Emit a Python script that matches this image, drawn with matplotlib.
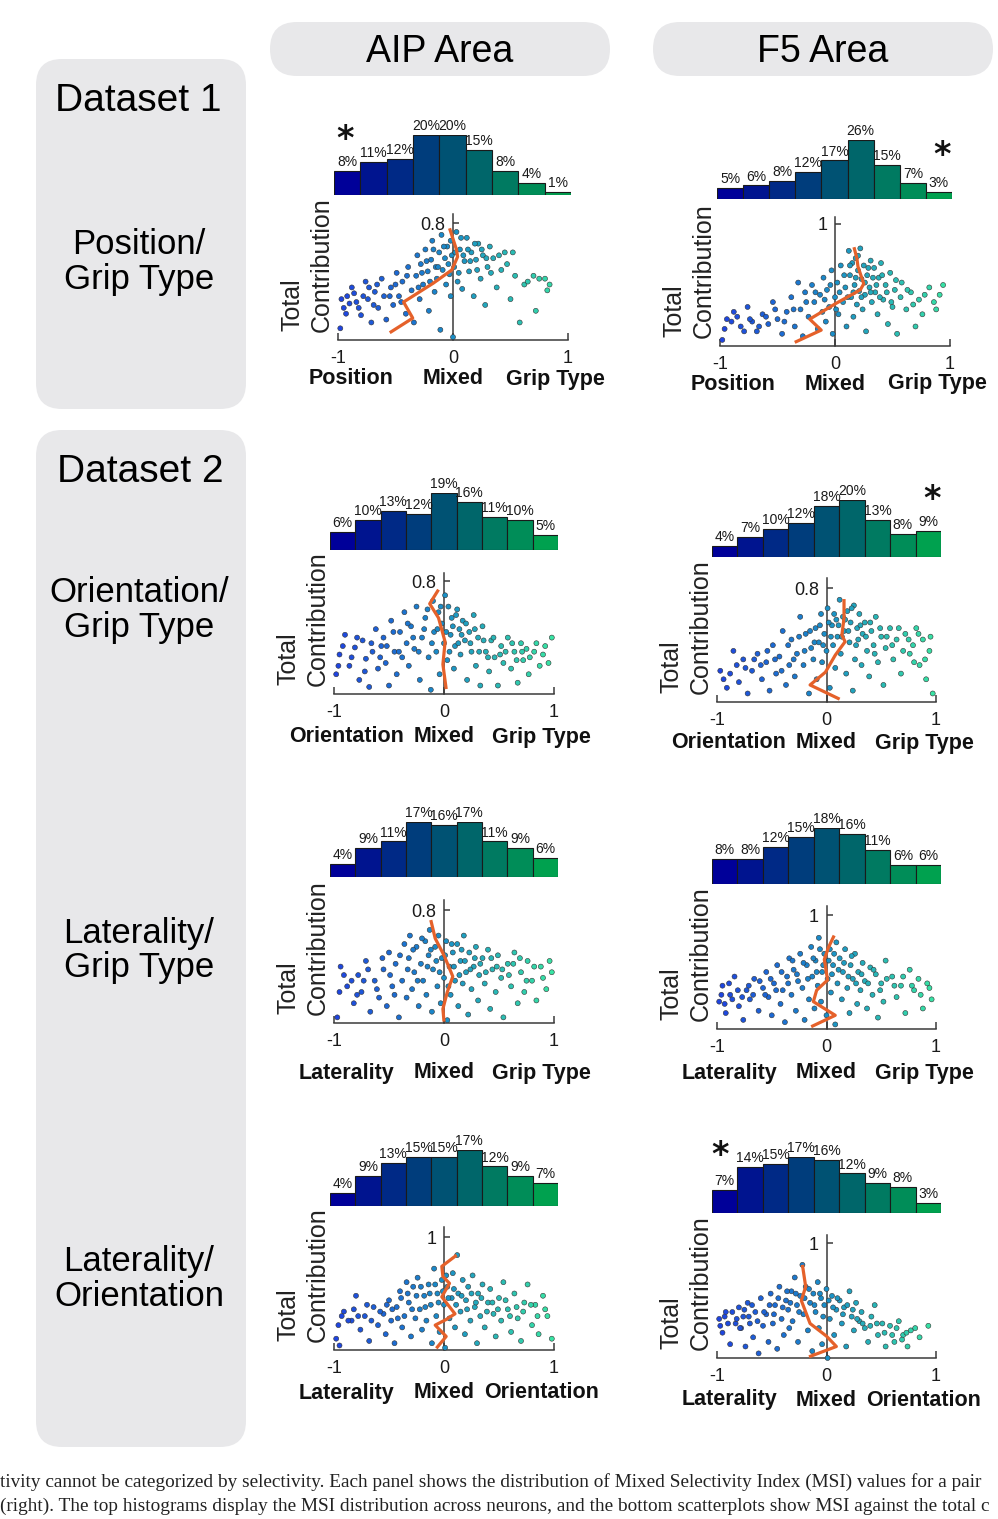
import numpy as np
import matplotlib
matplotlib.use("Agg")
import matplotlib.pyplot as plt
from matplotlib import font_manager
from matplotlib.patches import FancyBboxPatch
from matplotlib.colors import LinearSegmentedColormap

# histogram percentages (9 MSI bins from -1 to 1)
aip_pos_grip_hist = [8, 11, 12, 20, 20, 15, 8, 4, 1]
f5_pos_grip_hist = [5, 6, 8, 12, 17, 26, 15, 7, 3]
aip_ori_grip_hist = [6, 10, 13, 12, 19, 16, 11, 10, 5]
f5_ori_grip_hist = [4, 7, 10, 12, 18, 20, 13, 8, 9]
aip_lat_grip_hist = [4, 9, 11, 17, 16, 17, 11, 9, 6]
f5_lat_grip_hist = [8, 8, 12, 15, 18, 16, 11, 6, 6]
aip_lat_ori_hist = [4, 9, 13, 15, 15, 17, 12, 9, 7]
f5_lat_ori_hist = [7, 14, 15, 17, 16, 12, 9, 8, 3]

# scatter points (MSI, total contribution)
aip_pos_grip_pts = [
    (-0.98,0.08),(-0.95,0.22),(-0.92,0.30),(-0.88,0.36),(-0.84,0.26),(-0.80,0.17),
    (-0.76,0.40),(-0.74,0.28),(-0.71,0.12),(-0.68,0.33),(-0.65,0.22),(-0.62,0.42),(-0.60,0.30),(-0.58,0.14),
    (-0.54,0.36),(-0.52,0.24),(-0.49,0.46),(-0.47,0.30),(-0.44,0.40),(-0.41,0.18),(-0.39,0.50),(-0.36,0.34),(-0.34,0.12),
    (-0.32,0.44),(-0.31,0.58),(-0.29,0.28),(-0.28,0.52),(-0.26,0.38),(-0.24,0.62),(-0.22,0.47),(-0.21,0.20),
    (-0.19,0.55),(-0.18,0.68),(-0.16,0.33),(-0.15,0.50),(-0.14,0.42),(-0.12,0.60),(-0.11,0.07),
    (-0.10,0.72),(-0.09,0.48),(-0.07,0.56),(-0.06,0.38),(-0.05,0.64),(-0.03,0.45),(-0.02,0.30),(-0.01,0.58),
    (0.00,0.02),(0.01,0.50),(0.03,0.74),(0.04,0.40),(0.06,0.62),(0.08,0.35),(0.10,0.54),
    (0.12,0.70),(0.14,0.47),(0.16,0.60),(0.18,0.30),(0.20,0.55),(0.22,0.66),(0.24,0.42),(0.26,0.58),(0.28,0.24),(0.30,0.50),(0.32,0.64),
    (0.35,0.56),(0.38,0.36),(0.42,0.48),(0.45,0.60),(0.50,0.28),(0.54,0.44),
    (0.58,0.12),(0.62,0.38),(0.70,0.44),(0.72,0.20),(0.80,0.42),(0.82,0.34),
    (-0.97,0.28),(-0.93,0.18),(-0.90,0.25),(-0.86,0.32),(-0.82,0.22),(-0.78,0.30),(-0.73,0.36),(-0.69,0.24),
    (-0.66,0.38),(-0.55,0.30),(-0.50,0.38),(-0.45,0.26),(-0.40,0.44),(-0.30,0.36),(-0.27,0.46),(-0.23,0.54),
    (-0.20,0.40),(-0.17,0.62),(-0.13,0.50),(-0.08,0.64),(-0.04,0.52),(-0.02,0.68),(0.02,0.60),(0.05,0.46),
    (0.07,0.70),(0.09,0.58),(0.13,0.62),(0.15,0.54),(0.19,0.66),(0.21,0.48),(0.25,0.62),(0.29,0.56),
    (0.33,0.46),(0.40,0.58),(0.47,0.52),(0.52,0.60),(0.65,0.40),(0.75,0.42),(0.84,0.38)]
f5_pos_grip_pts = [
    (-0.98,0.05),(-0.94,0.22),(-0.88,0.28),(-0.82,0.16),
    (-0.76,0.32),(-0.72,0.20),(-0.68,0.12),(-0.63,0.26),(-0.58,0.18),
    (-0.54,0.36),(-0.50,0.22),(-0.46,0.10),(-0.42,0.28),(-0.38,0.40),(-0.35,0.16),
    (-0.32,0.52),(-0.30,0.30),(-0.28,0.08),(-0.26,0.44),(-0.23,0.24),(-0.20,0.50),(-0.18,0.36),(-0.15,0.14),(-0.13,0.42),(-0.11,0.28),
    (-0.10,0.56),(-0.08,0.20),(-0.07,0.46),(-0.05,0.32),(-0.03,0.62),(-0.02,0.10),(0.00,0.40),(0.02,0.52),(0.03,0.26),
    (0.05,0.66),(0.07,0.36),(0.09,0.48),(0.10,0.16),
    (0.12,0.78),(0.13,0.58),(0.14,0.40),(0.15,0.68),(0.16,0.24),(0.17,0.50),(0.18,0.72),(0.19,0.34),(0.20,0.62),(0.21,0.45),
    (0.22,0.80),(0.23,0.55),(0.24,0.30),(0.25,0.66),(0.26,0.42),(0.27,0.12),(0.28,0.58),(0.30,0.48),(0.31,0.70),(0.32,0.36),
    (0.34,0.64),(0.35,0.44),(0.37,0.26),(0.38,0.56),(0.40,0.68),(0.42,0.38),(0.44,0.50),(0.46,0.18),(0.48,0.60),(0.50,0.32),(0.52,0.46),(0.54,0.10),
    (0.58,0.52),(0.62,0.30),(0.66,0.44),(0.70,0.16),(0.73,0.38),(0.76,0.26),
    (0.82,0.48),(0.88,0.30),(0.94,0.50),
    (-0.96,0.14),(-0.90,0.20),(-0.85,0.24),(-0.79,0.12),(-0.74,0.22),(-0.66,0.16),(-0.60,0.24),(-0.52,0.30),
    (-0.44,0.20),(-0.36,0.30),(-0.25,0.36),(-0.17,0.44),(-0.09,0.38),(-0.04,0.50),(0.01,0.30),(0.04,0.44),
    (0.08,0.58),(0.11,0.40),(0.13,0.66),(0.16,0.44),(0.18,0.56),(0.20,0.74),(0.23,0.40),(0.26,0.52),
    (0.29,0.64),(0.31,0.44),(0.33,0.56),(0.36,0.50),(0.39,0.40),(0.41,0.58),(0.45,0.44),(0.49,0.36),
    (0.53,0.54),(0.57,0.40),(0.63,0.46),(0.68,0.34),(0.78,0.42),(0.86,0.36),(0.91,0.42)]
aip_ori_grip_pts = [
    (-0.98,0.14),(-0.95,0.28),(-0.90,0.42),(-0.86,0.20),(-0.81,0.33),
    (-0.77,0.10),(-0.74,0.38),(-0.71,0.25),(-0.68,0.05),(-0.65,0.30),(-0.62,0.46),(-0.60,0.18),(-0.57,0.34),
    (-0.55,0.40),(-0.53,0.22),(-0.50,0.06),(-0.48,0.52),(-0.45,0.30),(-0.43,0.14),(-0.40,0.44),(-0.38,0.26),(-0.36,0.58),(-0.34,0.36),
    (-0.32,0.20),(-0.30,0.48),(-0.27,0.32),(-0.25,0.62),(-0.22,0.10),(-0.20,0.40),(-0.17,0.54),(-0.14,0.26),(-0.12,0.03),
    (-0.10,0.66),(-0.09,0.44),(-0.07,0.30),(-0.05,0.58),(-0.04,0.14),(-0.02,0.50),(0.00,0.36),(0.01,0.70),(0.03,0.24),
    (0.04,0.62),(0.06,0.42),(0.07,0.54),(0.09,0.18),(0.10,0.34),
    (0.12,0.60),(0.14,0.46),(0.15,0.28),(0.17,0.52),(0.19,0.38),(0.21,0.10),(0.23,0.44),(0.25,0.30),(0.27,0.56),(0.29,0.20),(0.31,0.40),(0.33,0.06),
    (0.35,0.48),(0.38,0.30),(0.41,0.16),(0.43,0.38),(0.46,0.26),(0.49,0.06),(0.52,0.34),(0.54,0.22),
    (0.58,0.40),(0.61,0.18),(0.64,0.30),(0.67,0.08),(0.70,0.36),(0.72,0.24),(0.75,0.32),(0.77,0.14),
    (0.82,0.30),(0.87,0.20),(0.92,0.34),(0.98,0.40),
    (-0.96,0.20),(-0.92,0.34),(-0.84,0.26),(-0.79,0.40),(-0.72,0.16),(-0.66,0.36),(-0.58,0.26),(-0.52,0.34),
    (-0.46,0.44),(-0.41,0.30),(-0.33,0.50),(-0.28,0.40),(-0.23,0.30),(-0.18,0.46),(-0.15,0.60),(-0.11,0.36),
    (-0.06,0.46),(-0.03,0.62),(0.02,0.44),(0.05,0.30),(0.08,0.48),(0.11,0.56),(0.13,0.36),(0.16,0.42),
    (0.20,0.50),(0.24,0.36),(0.28,0.46),(0.32,0.30),(0.36,0.38),(0.40,0.26),(0.45,0.40),(0.51,0.28),
    (0.56,0.30),(0.62,0.36),(0.66,0.24),(0.71,0.30),(0.78,0.26),(0.84,0.36),(0.90,0.28),(0.95,0.22)]
f5_ori_grip_pts = [
    (-0.97,0.22),(-0.91,0.10),(-0.85,0.36),
    (-0.80,0.14),(-0.76,0.30),(-0.72,0.06),(-0.68,0.22),(-0.63,0.34),(-0.59,0.16),
    (-0.55,0.28),(-0.52,0.08),(-0.49,0.40),(-0.46,0.20),(-0.43,0.32),(-0.40,0.50),(-0.37,0.12),(-0.34,0.26),
    (-0.32,0.44),(-0.29,0.18),(-0.27,0.34),(-0.24,0.60),(-0.21,0.26),(-0.19,0.48),(-0.16,0.06),(-0.14,0.38),(-0.12,0.30),
    (-0.10,0.52),(-0.09,0.16),(-0.07,0.42),(-0.05,0.62),(-0.04,0.28),(-0.02,0.48),(0.00,0.36),(0.01,0.66),(0.03,0.10),
    (0.05,0.54),(0.06,0.40),(0.08,0.24),(0.09,0.58),(0.10,0.46),
    (0.12,0.72),(0.13,0.34),(0.15,0.60),(0.16,0.50),(0.18,0.20),(0.19,0.64),(0.21,0.42),(0.22,0.56),(0.24,0.08),
    (0.25,0.68),(0.26,0.30),(0.28,0.52),(0.29,0.44),(0.30,0.62),(0.32,0.26),(0.33,0.48),
    (0.35,0.56),(0.37,0.36),(0.39,0.18),(0.41,0.50),(0.43,0.40),(0.45,0.60),(0.47,0.28),(0.50,0.46),(0.52,0.12),(0.54,0.38),
    (0.58,0.52),(0.61,0.30),(0.64,0.44),(0.68,0.20),(0.72,0.48),(0.76,0.34),
    (0.79,0.40),(0.82,0.52),(0.85,0.26),(0.88,0.44),(0.91,0.16),(0.94,0.36),(0.97,0.06),
    (-0.94,0.16),(-0.88,0.20),(-0.82,0.26),(-0.74,0.24),(-0.66,0.30),(-0.60,0.26),(-0.54,0.36),(-0.47,0.30),
    (-0.41,0.22),(-0.35,0.40),(-0.30,0.30),(-0.25,0.46),(-0.20,0.36),(-0.15,0.50),(-0.11,0.42),(-0.06,0.54),
    (-0.03,0.40),(0.02,0.56),(0.04,0.46),(0.07,0.62),(0.11,0.54),(0.14,0.46),(0.17,0.58),(0.20,0.50),
    (0.23,0.66),(0.27,0.40),(0.31,0.54),(0.36,0.46),(0.40,0.56),(0.44,0.34),(0.49,0.52),(0.55,0.46),
    (0.60,0.40),(0.66,0.52),(0.70,0.36),(0.75,0.44),(0.80,0.28),(0.84,0.48),(0.90,0.30),(0.95,0.46)]
aip_lat_grip_pts = [
    (-0.97,0.04),(-0.94,0.40),(-0.88,0.26),
    (-0.82,0.14),(-0.78,0.34),(-0.75,0.22),(-0.71,0.44),(-0.67,0.08),(-0.63,0.30),(-0.59,0.18),
    (-0.55,0.38),(-0.52,0.12),(-0.50,0.50),(-0.47,0.26),(-0.44,0.42),(-0.41,0.04),(-0.38,0.30),(-0.36,0.56),(-0.34,0.18),
    (-0.32,0.46),(-0.31,0.62),(-0.29,0.24),(-0.27,0.36),(-0.25,0.54),(-0.23,0.12),(-0.21,0.42),(-0.19,0.30),
    (-0.17,0.58),(-0.16,0.20),(-0.14,0.48),(-0.13,0.66),(-0.11,0.08),
    (-0.10,0.38),(-0.08,0.54),(-0.06,0.26),(-0.05,0.62),(-0.03,0.14),(-0.02,0.46),(0.00,0.32),(0.02,0.58),(0.03,0.02),
    (0.05,0.40),(0.06,0.20),(0.08,0.50),(0.10,0.30),
    (0.12,0.56),(0.13,0.12),(0.15,0.44),(0.17,0.28),(0.18,0.62),(0.20,0.36),(0.22,0.06),(0.23,0.50),(0.25,0.24),
    (0.27,0.40),(0.29,0.54),(0.31,0.16),(0.32,0.34),
    (0.35,0.46),(0.37,0.28),(0.40,0.52),(0.42,0.10),(0.44,0.38),(0.47,0.22),(0.49,0.48),(0.52,0.32),(0.54,0.04),
    (0.58,0.42),(0.61,0.26),(0.64,0.50),(0.67,0.14),(0.70,0.36),(0.73,0.22),(0.76,0.44),
    (0.80,0.30),(0.84,0.16),(0.88,0.40),(0.93,0.24),(0.98,0.36),
    (-0.95,0.22),(-0.91,0.34),(-0.84,0.30),(-0.79,0.20),(-0.73,0.30),(-0.69,0.38),(-0.61,0.24),(-0.56,0.46),
    (-0.49,0.34),(-0.45,0.20),(-0.40,0.48),(-0.33,0.38),(-0.28,0.52),(-0.24,0.30),(-0.20,0.60),(-0.15,0.40),
    (-0.12,0.52),(-0.07,0.44),(-0.04,0.36),(0.01,0.48),(0.04,0.26),(0.07,0.56),(0.09,0.40),(0.14,0.34),
    (0.16,0.52),(0.19,0.44),(0.24,0.38),(0.28,0.46),(0.33,0.42),(0.38,0.36),(0.43,0.46),(0.48,0.40),
    (0.53,0.38),(0.59,0.34),(0.63,0.42),(0.69,0.46),(0.75,0.30),(0.82,0.40),(0.90,0.32),(0.96,0.44)]
f5_lat_grip_pts = [
    (-0.98,0.24),(-0.95,0.38),(-0.92,0.14),(-0.88,0.30),(-0.84,0.46),(-0.80,0.20),
    (-0.76,0.08),(-0.73,0.34),(-0.70,0.26),(-0.66,0.44),(-0.62,0.16),(-0.58,0.36),
    (-0.55,0.50),(-0.53,0.28),(-0.50,0.12),(-0.48,0.40),(-0.45,0.56),(-0.42,0.22),(-0.40,0.34),(-0.38,0.06),(-0.36,0.46),(-0.34,0.62),
    (-0.32,0.30),(-0.30,0.52),(-0.28,0.16),(-0.26,0.42),(-0.24,0.66),(-0.22,0.36),(-0.20,0.08),(-0.18,0.56),
    (-0.16,0.26),(-0.14,0.72),(-0.13,0.46),(-0.11,0.18),
    (-0.10,0.60),(-0.08,0.38),(-0.07,0.80),(-0.05,0.24),(-0.04,0.50),(-0.02,0.66),(0.00,0.12),(0.01,0.44),(0.03,0.70),
    (0.04,0.32),(0.06,0.56),(0.08,0.04),(0.09,0.76),(0.10,0.40),
    (0.12,0.62),(0.14,0.26),(0.15,0.50),(0.17,0.70),(0.19,0.36),(0.21,0.14),(0.22,0.56),(0.24,0.44),(0.26,0.66),
    (0.28,0.22),(0.29,0.50),(0.31,0.34),(0.33,0.58),
    (0.35,0.42),(0.37,0.18),(0.40,0.54),(0.42,0.30),(0.45,0.48),(0.47,0.10),(0.50,0.40),(0.52,0.24),(0.54,0.60),
    (0.60,0.46),(0.64,0.28),(0.68,0.38),(0.72,0.14),(0.76,0.52),
    (0.80,0.34),(0.84,0.44),(0.88,0.18),(0.92,0.40),(0.96,0.26),
    (-0.96,0.30),(-0.93,0.22),(-0.89,0.40),(-0.86,0.26),(-0.81,0.34),(-0.77,0.28),(-0.71,0.38),(-0.67,0.30),
    (-0.61,0.42),(-0.56,0.30),(-0.51,0.44),(-0.46,0.34),(-0.41,0.50),(-0.35,0.40),(-0.31,0.60),(-0.27,0.48),
    (-0.21,0.58),(-0.17,0.44),(-0.12,0.62),(-0.09,0.50),(-0.06,0.70),(-0.03,0.56),(0.02,0.60),(0.05,0.48),
    (0.07,0.66),(0.11,0.52),(0.16,0.58),(0.20,0.46),(0.23,0.64),(0.27,0.40),(0.32,0.48),(0.38,0.40),
    (0.43,0.52),(0.49,0.34),(0.55,0.44),(0.62,0.38),(0.70,0.46),(0.78,0.38),(0.86,0.30),(0.94,0.36)]
aip_lat_ori_pts = [
    (-0.98,0.10),(-0.95,0.04),(-0.91,0.34),
    (-0.84,0.26),(-0.80,0.48),(-0.76,0.18),(-0.72,0.30),(-0.68,0.08),(-0.64,0.38),(-0.60,0.22),
    (-0.55,0.32),(-0.53,0.14),(-0.50,0.44),(-0.48,0.26),(-0.45,0.06),(-0.43,0.38),(-0.40,0.52),(-0.38,0.20),(-0.36,0.30),(-0.34,0.60),
    (-0.32,0.42),(-0.30,0.12),(-0.28,0.56),(-0.26,0.28),(-0.24,0.64),(-0.22,0.36),(-0.20,0.18),(-0.18,0.48),
    (-0.16,0.26),(-0.14,0.58),(-0.12,0.40),(-0.11,0.06),
    (-0.09,0.72),(-0.07,0.30),(-0.06,0.50),(-0.04,0.16),(-0.02,0.62),(0.00,0.40),(0.01,0.02),(0.03,0.56),(0.05,0.28),
    (0.07,0.46),(0.08,0.68),(0.10,0.20),
    (0.12,0.84),(0.13,0.50),(0.15,0.34),(0.17,0.62),(0.19,0.14),(0.20,0.44),(0.22,0.56),(0.24,0.26),(0.26,0.66),
    (0.28,0.38),(0.30,0.06),(0.31,0.50),(0.33,0.30),
    (0.35,0.58),(0.37,0.20),(0.40,0.42),(0.42,0.54),(0.45,0.32),(0.47,0.12),(0.50,0.46),(0.52,0.26),(0.54,0.60),
    (0.58,0.36),(0.61,0.16),(0.64,0.50),(0.67,0.28),(0.70,0.08),(0.73,0.42),(0.76,0.58),
    (0.80,0.22),(0.83,0.40),(0.86,0.14),(0.90,0.48),(0.94,0.30),(0.98,0.10),
    (-0.96,0.22),(-0.93,0.30),(-0.87,0.26),(-0.82,0.36),(-0.78,0.30),(-0.70,0.40),(-0.66,0.26),(-0.58,0.34),
    (-0.52,0.40),(-0.47,0.36),(-0.42,0.28),(-0.39,0.46),(-0.33,0.50),(-0.29,0.36),(-0.25,0.48),(-0.21,0.56),
    (-0.17,0.38),(-0.13,0.50),(-0.08,0.58),(-0.05,0.42),(-0.01,0.52),(0.02,0.66),(0.04,0.46),(0.09,0.54),
    (0.11,0.40),(0.16,0.48),(0.21,0.36),(0.25,0.50),(0.29,0.42),(0.34,0.46),(0.39,0.34),(0.44,0.42),
    (0.49,0.36),(0.56,0.44),(0.60,0.30),(0.66,0.38),(0.72,0.34),(0.79,0.40),(0.85,0.30),(0.92,0.36)]
f5_lat_ori_pts = [
    (-0.98,0.34),(-0.95,0.22),(-0.92,0.40),(-0.88,0.12),(-0.83,0.30),
    (-0.80,0.44),(-0.78,0.26),(-0.76,0.36),(-0.74,0.10),(-0.72,0.48),(-0.70,0.30),(-0.67,0.18),(-0.65,0.40),
    (-0.62,0.04),(-0.60,0.52),(-0.58,0.28),
    (-0.55,0.38),(-0.53,0.14),(-0.51,0.56),(-0.49,0.30),(-0.47,0.46),(-0.45,0.08),(-0.43,0.62),(-0.41,0.34),
    (-0.39,0.20),(-0.37,0.50),(-0.35,0.42),(-0.34,0.26),
    (-0.32,0.58),(-0.31,0.32),(-0.29,0.70),(-0.27,0.46),(-0.26,0.14),(-0.24,0.54),(-0.22,0.81),(-0.21,0.38),
    (-0.19,0.62),(-0.17,0.24),(-0.15,0.48),(-0.13,0.06),(-0.12,0.56),
    (-0.10,0.40),(-0.08,0.66),(-0.07,0.26),(-0.05,0.52),(-0.04,0.12),(-0.02,0.46),(0.00,0.60),(0.01,0.00),(0.03,0.34),
    (0.05,0.54),(0.07,0.20),(0.09,0.42),
    (0.12,0.50),(0.14,0.30),(0.16,0.44),(0.18,0.10),(0.21,0.58),(0.23,0.36),(0.25,0.24),(0.27,0.48),(0.30,0.32),(0.32,0.40),
    (0.35,0.26),(0.38,0.14),(0.41,0.36),(0.44,0.46),(0.47,0.20),(0.51,0.30),(0.54,0.10),
    (0.58,0.28),(0.62,0.14),(0.66,0.32),(0.70,0.20),(0.74,0.10),(0.77,0.24),
    (0.85,0.18),(0.93,0.28),
    (-0.97,0.28),(-0.93,0.36),(-0.90,0.30),(-0.86,0.40),(-0.82,0.34),(-0.79,0.26),(-0.75,0.42),(-0.71,0.36),
    (-0.68,0.46),(-0.63,0.32),(-0.57,0.40),(-0.52,0.46),(-0.48,0.38),(-0.44,0.52),(-0.40,0.44),(-0.36,0.58),
    (-0.33,0.48),(-0.28,0.56),(-0.25,0.40),(-0.20,0.52),(-0.16,0.60),(-0.11,0.46),(-0.06,0.56),(-0.03,0.36),
    (0.02,0.50),(0.06,0.44),(0.10,0.52),(0.15,0.38),(0.19,0.46),(0.24,0.42),(0.28,0.34),(0.33,0.30),
    (0.40,0.28),(0.46,0.30),(0.53,0.22),(0.60,0.20),(0.64,0.26),(0.69,0.16),(0.73,0.22),(0.81,0.26)]

# orange trend lines (MSI, total contribution)
aip_pos_grip_line = [(-0.55,0.05),(-0.35,0.15),(-0.43,0.26),(-0.17,0.39),(-0.01,0.48),(0.04,0.57),(0.03,0.62),(-0.03,0.765)]
f5_pos_grip_line = [(-0.35,0.03),(-0.12,0.13),(-0.22,0.22),(0.01,0.35),(0.22,0.46),(0.25,0.51),(0.20,0.65),(0.19,0.72),(0.165,0.81)]
aip_ori_grip_line = [(0.02,0.035),(-0.01,0.21),(0.01,0.37),(-0.05,0.54),(-0.13,0.64),(-0.05,0.74)]
f5_ori_grip_line = [(0.12,0.02),(-0.15,0.12),(-0.01,0.21),(0.08,0.33),(0.17,0.425),(0.14,0.47),(0.16,0.59),(0.16,0.725)]
aip_lat_grip_line = [(0.00,0.01),(-0.01,0.10),(0.03,0.22),(0.08,0.33),(0.00,0.48),(-0.08,0.60),(-0.12,0.73)]
f5_lat_grip_line = [(-0.14,0.02),(0.08,0.12),(-0.12,0.24),(-0.09,0.34),(0.01,0.43),(-0.02,0.61),(0.02,0.72),(0.07,0.82)]
aip_lat_ori_line = [(-0.07,0.015),(0.02,0.12),(-0.08,0.22),(0.02,0.27),(0.10,0.32),(-0.02,0.47),(0.05,0.59),(-0.01,0.65),(-0.02,0.74),(0.115,0.84)]
f5_lat_ori_line = [(-0.16,0.01),(0.09,0.10),(0.00,0.19),(-0.15,0.30),(-0.23,0.50),(-0.19,0.62),(-0.22,0.81)]

row_names = [("Position/", "Grip Type"), ("Orientation/", "Grip Type"),
             ("Laterality/", "Grip Type"), ("Laterality/", "Orientation")]
axis_names = [("Position", "Mixed", "Grip Type"), ("Orientation", "Mixed", "Grip Type"),
              ("Laterality", "Mixed", "Grip Type"), ("Laterality", "Mixed", "Orientation")]
caption = ["tivity cannot be categorized by selectivity. Each panel shows the distribution of Mixed Selectivity Index (MSI) values for a pair",
           "(right). The top histograms display the MSI distribution across neurons, and the bottom scatterplots show MSI against the total c"]

panels = [
    (aip_pos_grip_hist, aip_pos_grip_pts, aip_pos_grip_line, 0),
    (f5_pos_grip_hist, f5_pos_grip_pts, f5_pos_grip_line, 0),
    (aip_ori_grip_hist, aip_ori_grip_pts, aip_ori_grip_line, 1),
    (f5_ori_grip_hist, f5_ori_grip_pts, f5_ori_grip_line, 1),
    (aip_lat_grip_hist, aip_lat_grip_pts, aip_lat_grip_line, 2),
    (f5_lat_grip_hist, f5_lat_grip_pts, f5_lat_grip_line, 2),
    (aip_lat_ori_hist, aip_lat_ori_pts, aip_lat_ori_line, 3),
    (f5_lat_ori_hist, f5_lat_ori_pts, f5_lat_ori_line, 3),
]

# pixel layout: hist x0, x1, bottom, height | scatter x(-1), x(1), axis y, px per unit, ytop, ytick | label gap
layout = [
    (334, 571, 195, 60, 338, 568, 340, 146, 0.86, 0.8, 37),
    (717, 952, 199, 59, 720, 950, 346, 122, 1.06, 1, 36),
    (330, 558, 550, 57, 334, 554, 694, 141, 0.86, 0.8, 41),
    (712, 941, 557, 57, 717, 936, 702, 142, 0.87, 0.8, 39),
    (330, 558, 877, 55, 334, 554, 1023, 141, 0.87, 0.8, 48),
    (712, 941, 884, 56, 717, 936, 1029, 114, 1.08, 1, 42),
    (330, 558, 1206, 56, 334, 554, 1350, 113, 1.09, 1, 41),
    (712, 941, 1213, 56, 717, 936, 1358, 115, 1.07, 1, 40),
]
stars = [(345, 137), (942, 154), (932, 497), (720, 1153)]

W, H = 998, 1519
SANS = "Liberation Sans"
PX = 100 / 72.0
installed = {f.name for f in font_manager.fontManager.ttflist}
if "Liberation Sans Narrow" in installed:
    PCT_FONT, PCT_SIZE = "Liberation Sans Narrow", 11.5
else:
    PCT_FONT, PCT_SIZE = SANS, 10

hist_cmap = LinearSegmentedColormap.from_list("h", [(0.0, 0.0, 0.60), (0.0, 0.32, 0.45), (0.0, 0.63, 0.31)])
pt_cmap = LinearSegmentedColormap.from_list("p", [(0.12, 0.26, 0.88), (0.10, 0.56, 0.78), (0.22, 0.90, 0.64)])
box_col = "#e8e8ea"
line_col = "#e5612a"
ax_col = "#3a3a3a"

fig = plt.figure(figsize=(W / 100, H / 100), dpi=100)
bg = fig.add_axes([0, 0, 1, 1])
bg.set_xlim(0, W)
bg.set_ylim(H, 0)
bg.axis("off")


def ctext(x, yc, s, size, **kw):
    # place text by the visual centre of its capitals
    bg.text(x, yc + 0.36 * size * PX, s, fontsize=size, ha="center", va="baseline",
            family=SANS, **kw)


def rbox(x0, y0, x1, y1, r):
    bg.add_patch(FancyBboxPatch((x0 + r, y0 + r), x1 - x0 - 2 * r, y1 - y0 - 2 * r,
                                boxstyle="round,pad=%d" % r, fc=box_col, ec="none"))


rbox(270, 22, 610, 76, 27)
rbox(653, 22, 993, 76, 27)
rbox(36, 59, 246, 409, 26)
rbox(36, 430, 246, 1447, 26)

ctext(440, 49, "AIP Area", 27)
ctext(823, 49, "F5 Area", 27)
ctext(138, 97, "Dataset 1", 28)
ctext(140, 468, "Dataset 2", 28)
for (a, b), yc in zip(row_names, [242, 590, 930, 1259]):
    ctext(139, yc, a, 25)
    ctext(139, yc + 34, b, 25)

# significance stars
for (x, yc) in stars:
    bg.text(x, yc, r"$\mathbf{*}$", fontsize=24, ha="center", va="center", color="#111111")

for (hist, pts, line, row), lay in zip(panels, layout):
    hx0, hx1, hb, hh, sx0, sx1, sy, sc, ytop, ytick, gap = lay

    # histogram
    hax = fig.add_axes([hx0 / W, 1 - hb / H, (hx1 - hx0) / W, hh / H])
    n = len(hist)
    cols = [hist_cmap(i / (n - 1)) for i in range(n)]
    hax.bar(np.arange(n), hist, width=1.0, color=cols, edgecolor="#1a1a1a", linewidth=0.8)
    hax.set_xlim(-0.5, n - 0.5)
    hax.set_ylim(0, max(hist))
    hax.axis("off")
    for i, v in enumerate(hist):
        hax.annotate("%d%%" % v, xy=(i, v), xytext=(0, 3.5), textcoords="offset points",
                     ha="center", va="baseline", fontsize=PCT_SIZE, family=PCT_FONT,
                     color="#1a1a1a", annotation_clip=False)

    # scatter
    sh = ytop * sc
    ax = fig.add_axes([sx0 / W, 1 - sy / H, (sx1 - sx0) / W, sh / H])
    p = np.array(pts)
    ax.scatter(p[:, 0], p[:, 1], s=13, c=pt_cmap((p[:, 0] + 1) / 2), edgecolors="#333333",
               linewidths=0.4, zorder=2, clip_on=False)
    ln = np.array(line)
    ax.plot(ln[:, 0], ln[:, 1], color=line_col, lw=2.3, zorder=3, solid_capstyle="butt")
    ax.set_xlim(-1, 1)
    ax.set_ylim(0, ytop)
    ax.patch.set_alpha(0)
    for s in ["top", "right"]:
        ax.spines[s].set_visible(False)
    ax.spines["left"].set_position(("data", 0))
    for s in ["left", "bottom"]:
        ax.spines[s].set_color(ax_col)
        ax.spines[s].set_linewidth(1.1)
        ax.spines[s].set_zorder(1)
    ax.set_xticks([-1, 0, 1])
    ax.set_xticklabels(["-1", "0", "1"])
    ax.set_yticks([ytick])
    ax.set_yticklabels(["0.8" if ytick < 1 else "1"])
    ax.tick_params(axis="x", direction="in", length=5, width=1.1, color=ax_col, pad=7,
                   labelsize=13, labelcolor="#1a1a1a")
    ax.tick_params(axis="y", direction="in", length=4, width=1.1, color=ax_col, pad=5.5,
                   labelsize=13, labelcolor="#1a1a1a")
    for t in ax.get_xticklabels() + ax.get_yticklabels():
        t.set_family(SANS)

    # axis names under the scatter
    for xd, name in zip([-0.89, 0, 0.89], axis_names[row]):
        ax.annotate(name, xy=(xd, 0), xytext=(0, -(gap + 7.5) / PX), textcoords="offset points",
                    ha="center", va="baseline", fontsize=15.5, weight="bold", family=SANS,
                    color="#111111", annotation_clip=False)

    # two-line y label
    em = 18 * PX
    bg.text(sx0 - 47 + 0.36 * em, sy - 35, "Total", fontsize=18, rotation=90,
            rotation_mode="anchor", ha="center", va="baseline", family=SANS, color="#222222")
    bg.text(sx0 - 18 + 0.36 * em, sy - 75, "Contribution", fontsize=18, rotation=90,
            rotation_mode="anchor", ha="center", va="baseline", family=SANS, color="#222222")

for line, yc in zip(caption, [1481, 1505]):
    bg.text(0, yc + 0.3 * 13.9 * PX, line, fontsize=13.9, ha="left", va="baseline",
            family="Liberation Serif", color="#222222")

fig.savefig("out.png", dpi=100)
